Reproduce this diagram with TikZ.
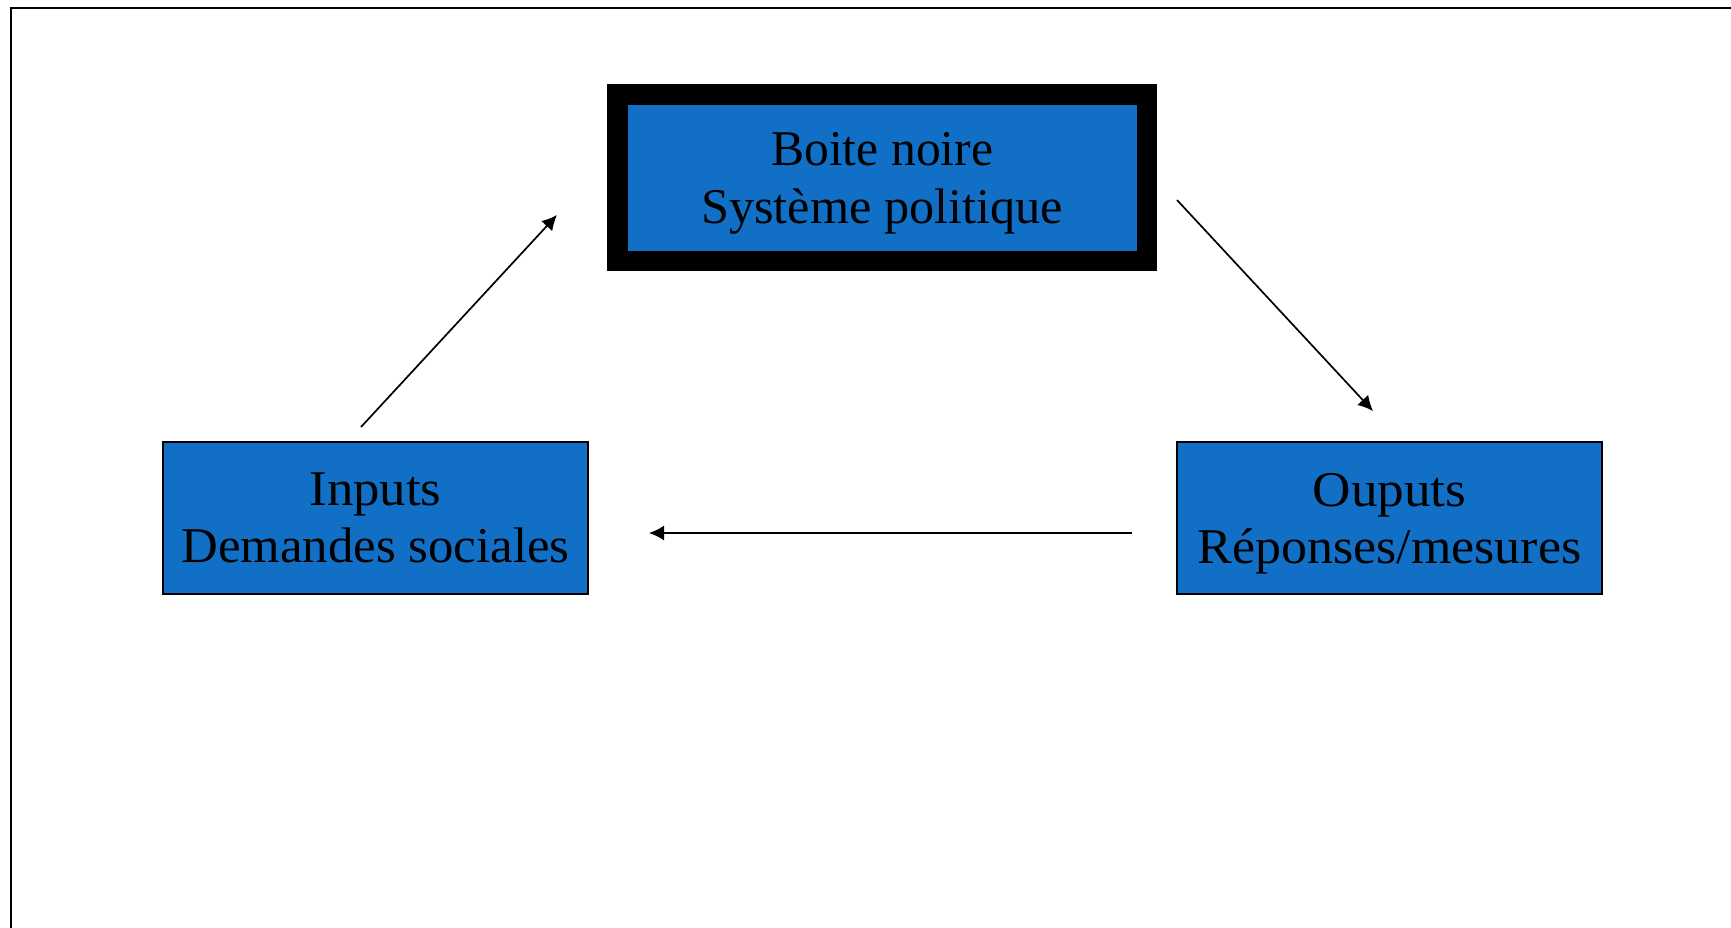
\documentclass[tikz,border=0pt]{standalone}
\usepackage{fontspec}
\setmainfont{Liberation Serif}
\usepackage{graphicx}
\usetikzlibrary{arrows.meta}
\definecolor{boxblue}{RGB}{17,112,198}
\newcommand{\fitw}[2]{\resizebox{#1}{\height}{#2}}
\begin{document}
\begin{tikzpicture}[x=1pt,y=-1pt,
  lbl/.style={inner sep=0pt, font=\fontsize{50}{60}\selectfont, anchor=base},
  bluebox/.style={draw=black, line width=1.5pt, fill=boxblue, minimum width=425pt, minimum height=152pt, inner sep=0pt},
  blackbox/.style={draw=black, line width=20.5pt, fill=boxblue, minimum width=529.5pt, minimum height=166.5pt, inner sep=0pt},
  flow/.style={line width=1.7pt, -{Latex[length=15pt,width=15pt]}}]
\useasboundingbox (0,0) rectangle (1731,927);
\fill[white] (0,0) rectangle (1731,927);
\draw[line width=2pt] (11,940) -- (11,8) -- (1745,8);
% boxes
\node[blackbox] (sys) at (882.3,177.8) {};
\node[bluebox] (inputs) at (375.5,518) {};
\node[bluebox] (outputs) at (1389.5,518) {};
% texts
\node[lbl] (t1) at (882.2,165) {\fitw{222pt}{Boite noire}};
\node[lbl] (t2) at (882.2,223.5) {\fitw{362pt}{Système politique}};
\node[lbl] (i1) at (375.5,505) {\fitw{132pt}{Inputs}};
\node[lbl] (i2) at (375.5,562) {\fitw{388pt}{Demandes sociales}};
\node[lbl] (o1) at (1389.5,506) {\fitw{154pt}{Ouputs}};
\node[lbl] (o2) at (1389.5,563) {\fitw{384pt}{Réponses/mesures}};
% arrow ends
\coordinate (a1s) at (361,427);
\coordinate (a1e) at (557,215);
\coordinate (a2s) at (1177,200);
\coordinate (a2e) at (1373,411);
\coordinate (a3s) at (1132,533);
\coordinate (a3e) at (649,533);
\draw[flow] (a1s) -- (a1e);
\draw[flow] (a2s) -- (a2e);
\draw[flow] (a3s) -- (a3e);
\end{tikzpicture}
\end{document}
